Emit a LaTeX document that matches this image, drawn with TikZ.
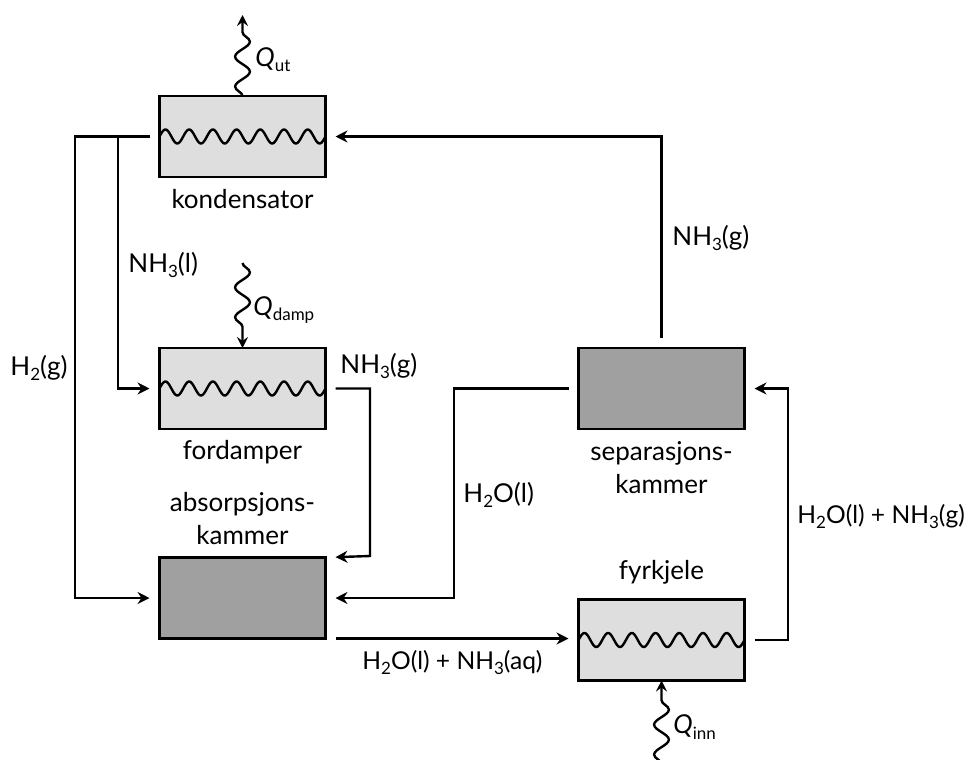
\documentclass[tikz,border=0pt]{standalone}
\usepackage{fontspec}
\setmainfont{Lato}
\usetikzlibrary{arrows.meta,decorations.pathmorphing,calc}
\definecolor{lightbox}{RGB}{222,222,222}
\definecolor{darkbox}{RGB}{160,160,160}
\newcommand{\lowsub}[1]{\raisebox{-0.4ex}{\fontsize{8.5}{10}\selectfont #1}}
\begin{document}
\begin{tikzpicture}[x=0.5pt,y=-0.5pt, font=\fontsize{13}{16.5}\selectfont,
  box/.style={draw, line width=1.4pt, minimum width=83pt, minimum height=40.5pt, inner sep=0pt, outer sep=0pt},
  lbox/.style={box, fill=lightbox},
  dbox/.style={box, fill=darkbox},
  flow/.style={line width=1.2pt, shorten <=5pt},
  arr/.style={flow, -{Stealth[length=6pt,width=6pt,inset=2pt]}, shorten >=5pt},
  heat/.style={line width=1.2pt, decorate, decoration={snake, segment length=15pt, amplitude=3.7pt, post length=4pt},
    -{Stealth[length=5.5pt,width=5.5pt,inset=2pt]}},
  wavy/.style={line width=1.2pt},
  lab/.style={anchor=west, inner sep=0pt},
  widelab/.style={lab, font=\fontsize{12.3}{15}\selectfont},
  boxcaption/.style={inner sep=0pt, align=center},
]
\useasboundingbox (0,0) rectangle (969,760);

% boxes
\node[lbox] (K)  at (242.5,136.5) {};
\node[lbox] (F)  at (242.5,388.5) {};
\node[dbox] (A)  at (242.5,598)   {};
\node[dbox] (S)  at (661.5,388.5) {};
\node[lbox] (Fy) at (661.5,640)   {};

% waves
\foreach \b in {K,F,Fy}{
  \draw[wavy, shift={(\b.west)}] plot[domain=0:166, samples=160, smooth] (\x,{-7*sin(7*360/166*\x)});
}

% captions
\node[boxcaption] (Kc) at (242.5,199) {kondensator};
\node[boxcaption] (Fc) at (242.5,452) {fordamper};
\node[boxcaption] (Ac) at (242.5,519) {absorpsjons-\\kammer};
\node[boxcaption] (Sc) at (661.5,468) {separasjons-\\kammer};
\node[boxcaption] (Fyc) at (661.5,572) {fyrkjele};

% junction coordinates
\coordinate (hl) at (75,136.5);
\coordinate (br) at (118,136.5);
\coordinate (fa) at (370,556);
\coordinate (sa) at (454,598);
\coordinate (fs) at (788,388.5);

% connectors
\draw[arr] (S.north) -- (S.north |- K.east) -- (K.east);
\draw[arr] (K.west) -- (hl) -- (hl |- A.west) -- (A.west);
\draw[arr, shorten <=0pt] (br) -- (br |- F.west) -- (F.west);
\draw[arr] (F.east) -- (F.east -| fa) -- (fa) -- (A.north east);
\draw[arr] (S.west) -- (S.west -| sa) -- (sa) -- (A.east);
\draw[arr] (A.south east) -- (A.south east -| Fy.west);
\draw[arr] (Fy.east) -- (Fy.east -| fs) -- (fs) -- (S.east);

% heat flows
\coordinate (qut) at (242.5,15);
\coordinate (qdp) at (242.5,263);
\coordinate (qin) at (661.5,764);
\draw[heat] (K.north) -- (qut);
\draw[heat] (qdp) -- (F.north);
\draw[heat] (qin) -- (Fy.south);

% labels
\node[lab] (lqut) at (255,60) {\textit{Q}\lowsub{ut}};
\node[lab] (lqdp) at (253,310) {\textit{Q}\lowsub{damp}};
\node[lab] (lqin) at (673,727) {\textit{Q}\lowsub{inn}};
\node[lab] (l1) at (672,238) {NH\lowsub{3}(g)};
\node[lab] (l2) at (128,265) {NH\lowsub{3}(l)};
\node[lab] (l3) at (10,368) {H\lowsub{2}(g)};
\node[lab] (l4) at (340,366) {NH\lowsub{3}(g)};
\node[lab] (l5) at (463,495) {H\lowsub{2}O(l)};
\node[widelab] (l6) at (797,517) {H\lowsub{2}O(l) + NH\lowsub{3}(g)};
\node[widelab] (l7) at (362,663) {H\lowsub{2}O(l) + NH\lowsub{3}(aq)};
\end{tikzpicture}
\end{document}
